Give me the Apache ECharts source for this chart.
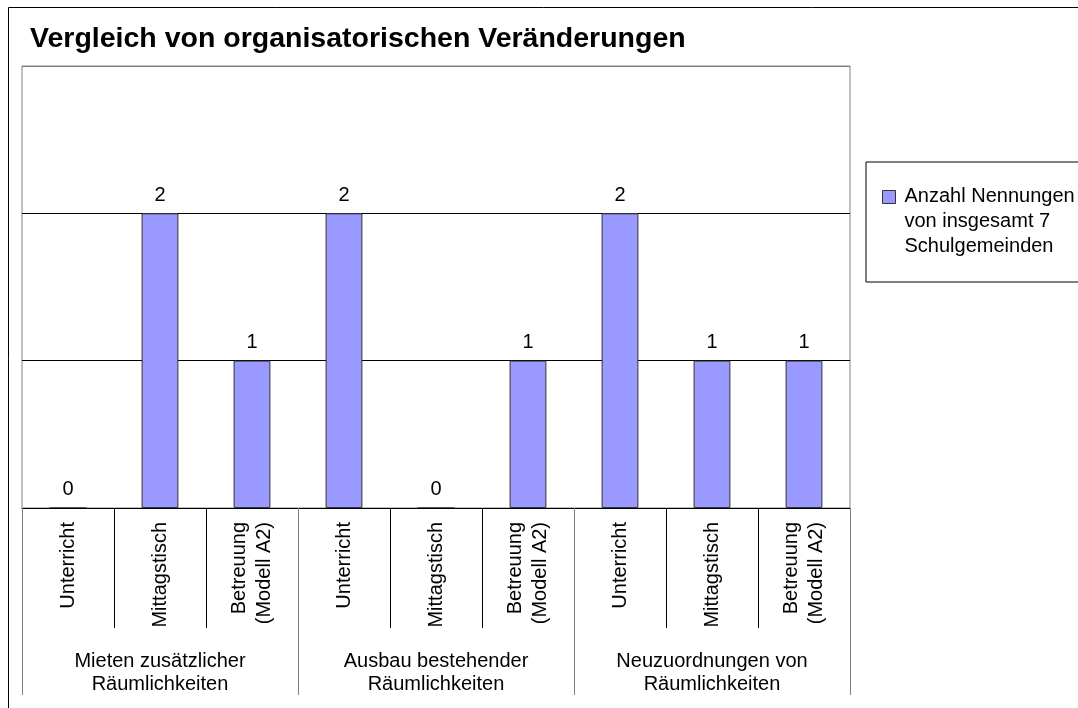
<!DOCTYPE html>
<html>
<head>
<meta charset="utf-8">
<script src="https://cdn.jsdelivr.net/npm/echarts@6/dist/echarts.min.js"></script>
<style>
    html, body { margin: 0; padding: 0; background: #fff; }
    #chart { width: 1078px; height: 708px; }
</style>
</head>
<body>
<div id="chart"></div>
<script>
// Kategorien (innere Ebene) und Gruppen (äußere Ebene)
var categories = [
    "Unterricht", "Mittagstisch", "Betreuung\n(Modell A2)",
    "Unterricht", "Mittagstisch", "Betreuung\n(Modell A2)",
    "Unterricht", "Mittagstisch", "Betreuung\n(Modell A2)"
];
var groups = [
    "Mieten zusätzlicher\nRäumlichkeiten",
    "Ausbau bestehender\nRäumlichkeiten",
    "Neuzuordnungen von\nRäumlichkeiten"
];
var counts = [0, 2, 1, 2, 0, 1, 2, 1, 1];
var seriesName = "Anzahl Nennungen\nvon insgesamt 7\nSchulgemeinden";

var FONT = "'Liberation Sans', Arial, sans-serif";

var chart = echarts.init(document.getElementById("chart"));
chart.setOption({
    animation: false,
    textStyle: { fontFamily: FONT, color: "#000" },
    title: {
        text: "Vergleich von organisatorischen Veränderungen",
        left: 25,
        top: 20,
        textStyle: { fontSize: 28.5, fontWeight: "bold", color: "#000", fontFamily: FONT }
    },
    graphic: [{
        // Rahmen um das ganze Diagramm
        type: "rect",
        shape: { x: 8.5, y: 7.5, width: 1200, height: 900 },
        style: { fill: null, stroke: "#000", lineWidth: 1 },
        silent: true
    }],
    legend: {
        left: 866,
        top: 162,
        orient: "vertical",
        padding: [22, 30, 23, 16],
        borderColor: "#000",
        borderWidth: 1,
        itemWidth: 17,
        itemHeight: 74,
        itemGap: 0,
        // Quadrat oben, damit es auf Höhe der ersten Textzeile sitzt
        icon: "path://M0,0M0,6L13,6L13,19L0,19ZM17,74",
        itemStyle: { borderColor: "#333", borderWidth: 1 },
        textStyle: { fontSize: 20, lineHeight: 25, color: "#000", fontFamily: FONT },
        data: [seriesName]
    },
    grid: {
        left: 22,
        right: 228,
        top: 66,
        bottom: 200,
        show: true,
        borderColor: "#808080",
        borderWidth: 1
    },
    xAxis: [{
        type: "category",
        data: categories,
        position: "bottom",
        axisLine: { show: true, lineStyle: { color: "#000", width: 1 } },
        axisTick: { show: true, alignWithLabel: false, interval: 0, length: 120, lineStyle: { color: "#000", width: 1 } },
        axisLabel: {
            rotate: 90,
            margin: 14,
            fontSize: 20,
            lineHeight: 25,
            color: "#000",
            interval: 0
        },
        z: 5
    }, {
        type: "category",
        data: groups,
        position: "bottom",
        axisLine: { show: false },
        axisTick: { show: true, alignWithLabel: false, interval: 0, length: 187, lineStyle: { color: "#808080", width: 1 } },
        axisLabel: {
            margin: 142,
            fontSize: 20,
            lineHeight: 23,
            color: "#000",
            interval: 0
        },
        z: 6
    }],
    yAxis: {
        type: "value",
        min: 0,
        max: 3,
        interval: 1,
        axisLine: { show: false },
        axisTick: { show: false },
        axisLabel: { show: false },
        splitLine: { lineStyle: { color: ["#000", "#000", "#000", "#808080"], width: 1 } }
    },
    series: [{
        name: seriesName,
        type: "bar",
        xAxisIndex: 0,
        data: counts,
        barWidth: "40%",
        itemStyle: { color: "#9999FF", borderColor: "#333", borderWidth: 1 },
        label: {
            show: true,
            position: "top",
            distance: 8,
            fontSize: 20,
            color: "#000",
            fontFamily: FONT
        }
    }]
});
</script>
</body>
</html>
